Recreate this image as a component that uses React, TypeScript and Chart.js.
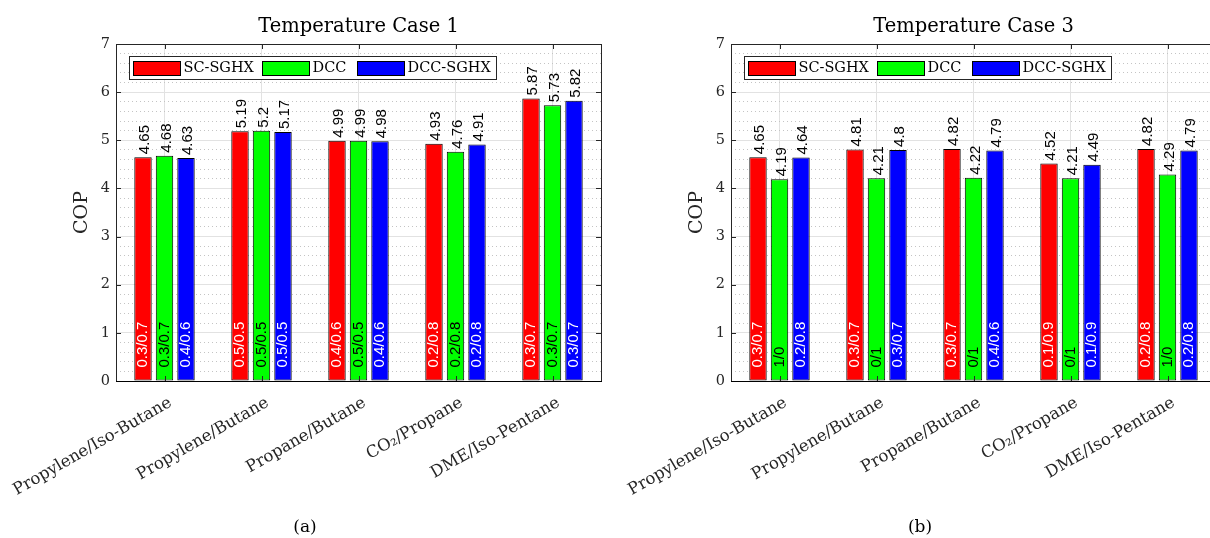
import React, { useEffect, useRef } from "react";
import { Chart, registerables } from "chart.js";

Chart.register(...registerables);

// ---------- data ----------
const categories = ["Propylene/Iso-Butane", "Propylene/Butane", "Propane/Butane", "CO₂/Propane", "DME/Iso-Pentane"];
const seriesNames = ["SC-SGHX", "DCC", "DCC-SGHX"];
const seriesColors = ["#FF0000", "#00FF00", "#0000FF"];
const ratioTextColors = ["#FFFFFF", "#000000", "#FFFFFF"];

const case1SCSGHX = [4.65, 5.19, 4.99, 4.93, 5.87];
const case1DCC = [4.68, 5.2, 4.99, 4.76, 5.73];
const case1DCCSGHX = [4.63, 5.17, 4.98, 4.91, 5.82];
const case1SCSGHXRatio = ["0.3/0.7", "0.5/0.5", "0.4/0.6", "0.2/0.8", "0.3/0.7"];
const case1DCCRatio = ["0.3/0.7", "0.5/0.5", "0.5/0.5", "0.2/0.8", "0.3/0.7"];
const case1DCCSGHXRatio = ["0.4/0.6", "0.5/0.5", "0.4/0.6", "0.2/0.8", "0.3/0.7"];

const case3SCSGHX = [4.65, 4.81, 4.82, 4.52, 4.82];
const case3DCC = [4.19, 4.21, 4.22, 4.21, 4.29];
const case3DCCSGHX = [4.64, 4.8, 4.79, 4.49, 4.79];
const case3SCSGHXRatio = ["0.3/0.7", "0.3/0.7", "0.3/0.7", "0.1/0.9", "0.2/0.8"];
const case3DCCRatio = ["1/0", "0/1", "0/1", "0/1", "1/0"];
const case3DCCSGHXRatio = ["0.2/0.8", "0.3/0.7", "0.4/0.6", "0.1/0.9", "0.2/0.8"];

const yMin = 0;
const yMax = 7;
const yMajorStep = 1;
const yMinorStep = 0.2;

const titles = ["Temperature Case 1", "Temperature Case 3"];
const captions = ["(a)", "(b)"];

// ---------- styling ----------
const SERIF = '"DejaVu Serif", "Liberation Serif", serif';
const SANS = '"Liberation Sans", Arial, sans-serif';
const AXIS = "#262626";
const CANVAS_W = 615;
const CANVAS_H = 538;

const barLabelPlugin = {
  id: "barLabels",
  afterDatasetsDraw(chart: any) {
    const ctx = chart.ctx;
    chart.data.datasets.forEach((ds: any, di: number) => {
      const meta = chart.getDatasetMeta(di);
      meta.data.forEach((bar: any, i: number) => {
        const { x, y, base } = bar.getProps(["x", "y", "base"], true);
        ctx.save();
        ctx.font = "15px " + SANS;
        ctx.textAlign = "left";
        ctx.textBaseline = "middle";
        ctx.translate(x + 2, y - 3);
        ctx.rotate(-Math.PI / 2);
        ctx.fillStyle = "#000";
        ctx.fillText(String(ds.data[i]), 0, 0);
        ctx.restore();

        ctx.save();
        ctx.font = "15px " + SANS;
        ctx.textAlign = "left";
        ctx.textBaseline = "middle";
        ctx.translate(x, base - 13);
        ctx.rotate(-Math.PI / 2);
        ctx.fillStyle = ds.ratioColor;
        ctx.fillText(ds.ratios[i], 0, 0);
        ctx.restore();
      });
    });
  },
};

const framePlugin = {
  id: "frame",
  afterDatasetsDraw(chart: any, _args: any, opts: any) {
    const ctx = chart.ctx;
    const { left, right, top, bottom } = chart.chartArea;
    const xs = chart.scales.x;
    const ys = chart.scales.y;
    ctx.save();
    ctx.lineWidth = 1;
    ctx.strokeStyle = AXIS;
    // ticks
    ctx.beginPath();
    for (let v = yMin; v <= yMax; v += yMajorStep) {
      const py = Math.round(ys.getPixelForValue(v)) + 0.5;
      ctx.moveTo(left, py);
      ctx.lineTo(left + 5, py);
      ctx.moveTo(right, py);
      ctx.lineTo(right - 5, py);
    }
    for (let i = 0; i < chart.data.labels.length; i++) {
      const px = Math.round(xs.getPixelForValue(i)) + 0.5;
      ctx.moveTo(px, top);
      ctx.lineTo(px, top + 5);
      ctx.moveTo(px, bottom);
      ctx.lineTo(px, bottom - 5);
    }
    ctx.stroke();
    // box
    ctx.strokeRect(Math.round(left) + 0.5, Math.round(top) + 0.5, Math.round(right - left), Math.round(bottom - top));
    ctx.beginPath();
    ctx.strokeStyle = "#000";
    ctx.moveTo(left, Math.round(bottom) + 0.5);
    ctx.lineTo(right + 1, Math.round(bottom) + 0.5);
    ctx.stroke();

    // title
    ctx.fillStyle = "#000";
    ctx.font = "19.5px " + SERIF;
    ctx.textAlign = "center";
    ctx.textBaseline = "alphabetic";
    ctx.fillText(opts.title, (left + right) / 2, 32);

    // legend
    const bx = Math.round(left) + 13 + 0.5;
    const by = Math.round(top) + 12 + 0.5;
    const bw = 367;
    const bh = 23;
    ctx.fillStyle = "#fff";
    ctx.fillRect(bx, by, bw, bh);
    ctx.strokeStyle = AXIS;
    ctx.strokeRect(bx, by, bw, bh);
    const offsets = [4, 133, 228];
    chart.data.datasets.forEach((ds: any, di: number) => {
      const sx = bx + offsets[di];
      const sy = by + 5;
      ctx.fillStyle = ds.backgroundColor;
      ctx.fillRect(sx, sy, 47, 14);
      ctx.strokeStyle = "#000";
      ctx.strokeRect(sx, sy, 47, 14);
      ctx.fillStyle = "#000";
      ctx.font = "14.5px " + SERIF;
      ctx.textAlign = "left";
      ctx.textBaseline = "middle";
      ctx.fillText(ds.label, sx + 50, by + bh / 2 + 0.5);
    });
    ctx.restore();
  },
};

function makeConfig(title: string, values: number[][], ratios: string[][]): any {
  return {
    type: "bar",
    data: {
      labels: categories,
      datasets: seriesNames.map((name, i) => ({
        label: name,
        data: values[i],
        ratios: ratios[i],
        ratioColor: ratioTextColors[i],
        backgroundColor: seriesColors[i],
        borderColor: "#000",
        borderWidth: 1,
        borderSkipped: false,
        categoryPercentage: 0.665,
        barPercentage: 0.81,
      })),
    },
    options: {
      animation: false,
      responsive: false,
      devicePixelRatio: 1,
      layout: { padding: { top: 44, right: 14, left: 0, bottom: 0 } },
      plugins: {
        legend: { display: false },
        title: { display: false },
        tooltip: { enabled: false },
        frame: { title },
      },
      scales: {
        x: {
          type: "category",
          offset: true,
          grid: { offset: false, color: "#e2e2e2", drawTicks: false },
          border: { display: false },
          ticks: {
            font: { family: SERIF, size: 16.5 },
            color: AXIS,
            minRotation: 30,
            maxRotation: 30,
            padding: 12,
            labelOffset: 6,
            autoSkip: false,
          },
          afterFit: (s: any) => {
            s.height = CANVAS_H - 381;
            s.paddingLeft = 0;
            s.paddingRight = 0;
          },
        },
        yMinor: {
          type: "linear",
          position: "left",
          min: yMin,
          max: yMax,
          ticks: { stepSize: yMinorStep, display: false },
          grid: {
            drawTicks: false,
            color: (c: any) =>
              Math.abs(c.tick.value - Math.round(c.tick.value)) < 1e-6 ? "rgba(0,0,0,0)" : "#c4c4c4",
          },
          border: { display: false, dash: [1, 3] },
          afterFit: (s: any) => {
            s.width = 0;
            s.paddingTop = 0;
            s.paddingBottom = 0;
          },
        },
        y: {
          type: "linear",
          position: "left",
          min: yMin,
          max: yMax,
          ticks: {
            stepSize: yMajorStep,
            font: { family: SERIF, size: 14.5 },
            color: AXIS,
            padding: 6,
          },
          grid: { color: "#e2e2e2", drawTicks: false },
          border: { display: false },
          title: {
            display: true,
            text: "COP",
            font: { family: SERIF, size: 19 },
            color: AXIS,
            padding: { top: 70.6, bottom: 0 },
          },
          afterFit: (s: any) => {
            s.width = 116;
            s.paddingTop = 0;
            s.paddingBottom = 0;
          },
        },
      },
    },
    plugins: [barLabelPlugin, framePlugin],
  };
}

function BarPanel(props: { title: string; values: number[][]; ratios: string[][]; left: number; caption: string }) {
  const ref = useRef<HTMLCanvasElement | null>(null);
  useEffect(() => {
    if (!ref.current) return;
    const chart = new Chart(ref.current, makeConfig(props.title, props.values, props.ratios));
    return () => chart.destroy();
  }, []);
  return (
    <>
      <canvas
        ref={ref}
        width={CANVAS_W}
        height={CANVAS_H}
        style={{ position: "absolute", left: props.left, top: 0, width: CANVAS_W, height: CANVAS_H }}
      />
      <div
        style={{
          position: "absolute",
          left: props.left + 305 - 40,
          width: 80,
          top: 515,
          textAlign: "center",
          fontFamily: SERIF,
          fontSize: 17,
          lineHeight: "22px",
          color: "#000",
        }}
      >
        {props.caption}
      </div>
    </>
  );
}

export default function App() {
  return (
    <div
      style={{
        position: "absolute",
        left: 0,
        top: 0,
        width: 1210,
        height: 538,
        overflow: "hidden",
        background: "#fff",
      }}
    >
      <BarPanel
        title={titles[0]}
        values={[case1SCSGHX, case1DCC, case1DCCSGHX]}
        ratios={[case1SCSGHXRatio, case1DCCRatio, case1DCCSGHXRatio]}
        left={0}
        caption={captions[0]}
      />
      <BarPanel
        title={titles[1]}
        values={[case3SCSGHX, case3DCC, case3DCCSGHX]}
        ratios={[case3SCSGHXRatio, case3DCCRatio, case3DCCSGHXRatio]}
        left={615}
        caption={captions[1]}
      />
    </div>
  );
}
